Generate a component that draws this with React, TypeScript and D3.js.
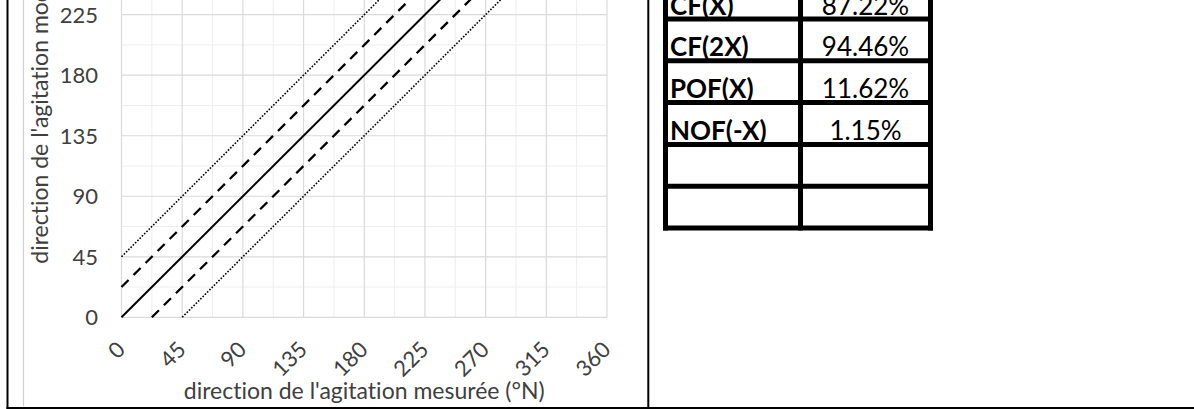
import React from "react";
import * as d3 from "d3";

// ---- data ----
const xTicks = [0, 45, 90, 135, 180, 225, 270, 315, 360];
const yTicks = [0, 45, 90, 135, 180, 225, 270, 315, 360];
const minorTicks = [22.5, 67.5, 112.5, 157.5, 202.5, 247.5, 292.5, 337.5];

// reference lines: [x, y] endpoints
const lineSolid: [number, number][] = [[0, 0], [360, 360]];
const lineDashUpper: [number, number][] = [[0, 22.5], [337.5, 360]];
const lineDashLower: [number, number][] = [[22.5, 0], [360, 337.5]];
const lineDotUpper: [number, number][] = [[0, 45], [315, 360]];
const lineDotLower: [number, number][] = [[45, 0], [360, 315]];

const tableLabels = ["CF(X)", "CF(2X)", "POF(X)", "NOF(-X)", "", ""];
const tableValues = ["87.22%", "94.46%", "11.62%", "1.15%", "", ""];

const xTitle = "direction de l'agitation mesurée (°N)";
const yTitle = "direction de l'agitation modélisée (°N)";

const FONT = "Lato, 'Open Sans', sans-serif";

export default function App() {
  const W = 1194;
  const H = 409;
  const x = d3.scaleLinear().domain([0, 360]).range([121.5, 607]);
  const y = d3.scaleLinear().domain([0, 360]).range([317.3, -166.9]);
  const line = d3
    .line<[number, number]>()
    .x((d) => x(d[0]))
    .y((d) => y(d[1]));

  const rows = d3
    .scaleBand<number>()
    .domain(tableLabels.map((_, i) => i))
    .range([-22.8, 228])
    .paddingInner(0);
  const colL = 665.5;
  const colM = 800.5;
  const colR = 930.5;
  const bw = 5;

  const refLines = [
    { pts: lineDotUpper, w: 1.6, dash: "1.6,1.6" },
    { pts: lineDotLower, w: 1.6, dash: "1.6,1.6" },
    { pts: lineDashUpper, w: 2.3, dash: "10,7" },
    { pts: lineDashLower, w: 2.3, dash: "10,7" },
    { pts: lineSolid, w: 2, dash: null },
  ];

  const visibleYTicks = yTicks.filter((t) => y(t) > 8);
  const noLig = { fontVariantLigatures: "none", fontFeatureSettings: "'liga' 0" } as any;

  return (
    <svg
      width={W}
      height={H}
      style={{ position: "absolute", left: 0, top: 0, background: "#fff", ...noLig }}
      fontFamily={FONT}
    >
      <defs>
        <clipPath id="plotclip">
          <rect x={x(0) - 2} y={0} width={x(360) - x(0) + 4} height={y(0) + 2} />
        </clipPath>
      </defs>
      {/* minor grid */}
      {minorTicks.map((t) => (
        <g key={"mn" + t}>
          <line x1={x(t)} x2={x(t)} y1={y(0)} y2={0} stroke="#eeeeee" strokeWidth={1} />
          <line x1={x(0)} x2={x(360)} y1={y(t)} y2={y(t)} stroke="#eeeeee" strokeWidth={1} />
        </g>
      ))}
      {/* major grid */}
      {xTicks.map((t) => (
        <line key={"gx" + t} x1={x(t)} x2={x(t)} y1={y(0)} y2={0} stroke="#dadada" strokeWidth={1.2} />
      ))}
      {yTicks.map((t) => (
        <line key={"gy" + t} x1={x(0)} x2={x(360)} y1={y(t)} y2={y(t)} stroke="#dadada" strokeWidth={1.2} />
      ))}
      {/* reference lines */}
      <g clipPath="url(#plotclip)">
        {refLines.map((l, i) => (
          <path
            key={"rl" + i}
            d={line(l.pts) || ""}
            fill="none"
            stroke="#000"
            strokeWidth={l.w}
            strokeDasharray={l.dash || undefined}
          />
        ))}
      </g>
      {/* y tick labels */}
      {visibleYTicks.map((t) => (
        <text
          key={"yl" + t}
          x={98}
          y={y(t)}
          dy="0.36em"
          textAnchor="end"
          fontSize={22}
          fill="#404040"
        >
          {t}
        </text>
      ))}
      {/* x tick labels */}
      {xTicks.map((t) => (
        <text
          key={"xl" + t}
          transform={`translate(${x(t) + 5},351) rotate(-45)`}
          textAnchor="end"
          fontSize={22}
          fill="#404040"
        >
          {t}
        </text>
      ))}
      {/* axis titles */}
      <text x={(x(0) + x(360)) / 2} y={399} textAnchor="middle" fontSize={23} fill="#404040">
        {xTitle}
      </text>
      <text
        transform={`translate(48,${(y(0) + y(360)) / 2}) rotate(-90)`}
        textAnchor="middle"
        fontSize={23}
        fill="#404040"
      >
        {yTitle}
      </text>

      {/* chart area border */}
      <line x1={23.5} x2={23.5} y1={0} y2={406} stroke="#d0d0d0" strokeWidth={1.2} />
      {/* outer frame lines */}
      <line x1={7.5} x2={7.5} y1={0} y2={409} stroke="#000" strokeWidth={2} />
      <line x1={648.3} x2={648.3} y1={0} y2={409} stroke="#000" strokeWidth={2} />
      <line x1={6.5} x2={1194} y1={408} y2={408} stroke="#000" strokeWidth={2} />

      {/* table */}
      <g>
        {tableLabels.map((lab, i) => {
          const top = rows(i)!;
          const bot = top + rows.bandwidth();
          return (
            <g key={"tr" + i}>
              <text x={670} y={bot - 4.5} fontSize={26} fontWeight="bold" fill="#000">
                {lab}
              </text>
              <text
                x={(colM + colR) / 2}
                y={bot - 4.5}
                fontSize={26}
                textAnchor="middle"
                fill="#000"
              >
                {tableValues[i]}
              </text>
            </g>
          );
        })}
        {tableLabels.map((_, i) => {
          const bot = rows(i)! + rows.bandwidth();
          return (
            <line key={"hb" + i} x1={colL - bw / 2} x2={colR + bw / 2} y1={bot} y2={bot} stroke="#000" strokeWidth={bw} />
          );
        })}
        {[colL, colM, colR].map((c) => (
          <line key={"vb" + c} x1={c} x2={c} y1={-30} y2={228 + bw / 2} stroke="#000" strokeWidth={bw} />
        ))}
      </g>
    </svg>
  );
}
